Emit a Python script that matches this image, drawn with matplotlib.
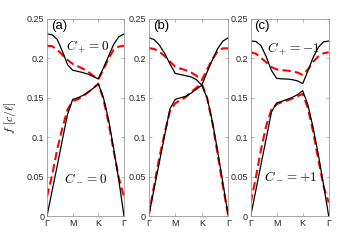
import matplotlib
matplotlib.use("Agg")
import matplotlib.pyplot as plt

plt.rcParams['font.family'] = ['Liberation Sans', 'DejaVu Sans']
plt.rcParams['mathtext.fontset'] = 'cm'

# --- dados ---
k = [0, 0.2, 0.4, 0.6, 0.8, 1.0, 1.2, 1.4, 1.6, 1.8, 2.0, 2.2, 2.4, 2.6, 2.8, 3.0]
k_ticks = [0, 1, 2, 3]
k_labels = ["Γ", "M", "K", "Γ"]
y_ticks = [0, 0.05, 0.1, 0.15, 0.2, 0.25]
y_labels = ["0", "0.05", "0.1", "0.15", "0.2", "0.25"]

# painel (a)
a_black_up = [0.231, 0.230, 0.224, 0.209, 0.192, 0.185, 0.1835, 0.182, 0.180, 0.177, 0.174,
              0.188, 0.203, 0.218, 0.2275, 0.231]
a_red_up = [0.216, 0.2155, 0.211, 0.2045, 0.198, 0.193, 0.190, 0.187, 0.183, 0.178, 0.1735,
            0.186, 0.200, 0.211, 0.215, 0.216]
a_black_lo = [0, 0.032, 0.064, 0.097, 0.129, 0.148, 0.150, 0.153, 0.157, 0.162, 0.1675,
              0.150, 0.122, 0.085, 0.045, 0]
a_red_lo = [0.0245, 0.052, 0.085, 0.112, 0.135, 0.146, 0.148, 0.152, 0.157, 0.162, 0.168,
            0.148, 0.118, 0.082, 0.048, 0.0245]

# painel (b)
b_black_up = [0.2263, 0.224, 0.217, 0.2065, 0.193, 0.181, 0.1795, 0.178, 0.1765, 0.173, 0.166,
              0.1825, 0.198, 0.2125, 0.222, 0.2263]
b_red_up = [0.213, 0.212, 0.2085, 0.203, 0.196, 0.1895, 0.187, 0.185, 0.182, 0.178, 0.1725,
            0.186, 0.199, 0.209, 0.2128, 0.2128]
b_black_lo = [0, 0.034, 0.068, 0.102, 0.136, 0.148, 0.150, 0.152, 0.156, 0.161, 0.166,
              0.150, 0.120, 0.082, 0.041, 0]
b_red_lo = [0, 0.038, 0.074, 0.105, 0.133, 0.143, 0.147, 0.151, 0.157, 0.163, 0.168,
            0.150, 0.118, 0.078, 0.037, 0]

# painel (c)
c_black_up = [0.222, 0.2215, 0.216, 0.202, 0.1845, 0.1747, 0.174, 0.1738, 0.173, 0.1715, 0.168,
              0.184, 0.201, 0.214, 0.221, 0.222]
c_red_up = [0.2077, 0.206, 0.2005, 0.195, 0.189, 0.186, 0.185, 0.1845, 0.1835, 0.182, 0.179,
            0.186, 0.1955, 0.2025, 0.2065, 0.2077]
c_black_lo = [0, 0.033, 0.066, 0.099, 0.132, 0.1435, 0.1455, 0.148, 0.1505, 0.154, 0.159,
              0.141, 0.112, 0.078, 0.040, 0]
c_red_lo = [0.017, 0.049, 0.085, 0.115, 0.135, 0.142, 0.1445, 0.1465, 0.149, 0.152, 0.155,
            0.137, 0.107, 0.072, 0.038, 0.017]

paineis = [
    ("(a)", [a_black_up, a_black_lo], [a_red_up, a_red_lo], [(1.58, 0.2145, "$C_+ = 0$"), (1.50, 0.048, "$C_- = 0$")]),
    ("(b)", [b_black_up, b_black_lo], [b_red_up, b_red_lo], []),
    ("(c)", [c_black_up, c_black_lo], [c_red_up, c_red_lo], [(1.665, 0.213, "$C_+ = -1$"), (1.55, 0.0495, "$C_- = +1$")]),
]
posicoes = [(47, 77), (148.7, 79.6), (250.7, 78)]

W, H = 363, 243
fig = plt.figure(figsize=(W / 100, H / 100), dpi=100)

for (rotulo, pretas, vermelhas, textos), (x0, w) in zip(paineis, posicoes):
    ax = fig.add_axes([x0 / W, (H - 216) / H, w / W, 197 / H])
    for yv in vermelhas:
        ax.plot(k, yv, color="red", lw=1.5, dashes=(4, 2))
    for yv in pretas:
        ax.plot(k, yv, color="black", lw=0.9)
    ax.set_xlim(0, 3)
    ax.set_ylim(0, 0.25)
    ax.set_xticks(k_ticks)
    ax.set_xticklabels(k_labels)
    ax.set_yticks(y_ticks)
    ax.set_yticklabels(y_labels)
    ax.tick_params(direction="in", length=2.2, width=0.5, labelsize=6.5, colors="0.15",
                   top=True, right=True, pad=2)
    ax.tick_params(which="both", color="0.6")
    for s in ax.spines.values():
        s.set_linewidth(0.6)
        s.set_color("0.6")
    ax.text(0.05, 0.995, rotulo, transform=ax.transAxes, ha="left", va="top", fontsize=9.5)
    for tx, ty, t in textos:
        ax.text(tx, ty, t, ha="center", va="center", fontsize=9.5)
    if rotulo == "(a)":
        ax.set_ylabel(r"$f\ [c/\ell]$", fontsize=8.5)
        ax.yaxis.set_label_coords(-0.38, 0.5)

fig.savefig("out.png", dpi=100)
